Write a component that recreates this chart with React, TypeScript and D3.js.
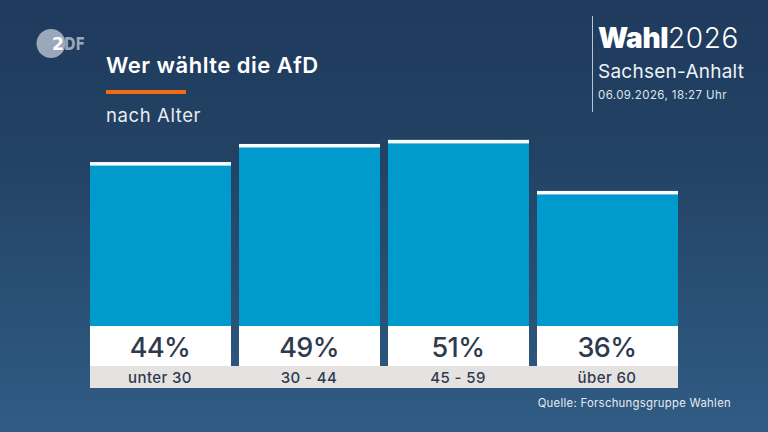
import React from "react";
import * as d3 from "d3";

const categories = ["unter 30", "30 - 44", "45 - 59", "über 60"];
const labelValues = [44, 49, 51, 36];
// bar heights (the drawn bars differ slightly from the rounded labels)
const barValues = [44.3, 49.2, 50.3, 36.5];
const font = "Inter, Roboto, 'Noto Sans', sans-serif";

export default function App() {
  const x = d3.scaleBand<string>().domain(categories).range([86, 682]).paddingInner(8 / 149).paddingOuter(4 / 149);
  const y = d3.scaleLinear().domain([0, 100]).range([326, -44]);
  const ink = "#2f3a4e";
  const bw = x.bandwidth();
  const x0 = x(categories[0])!;
  const x3 = x(categories[3])! + bw;
  return (
    <svg width={768} height={432} viewBox="0 0 768 432" style={{ position: "fixed", left: 0, top: 0, display: "block" }} fontFamily={font}>
      <defs>
        <linearGradient id="bg" x1="0" y1="0" x2="0" y2="1">
          <stop offset="0" stopColor="#1f3a5c" />
          <stop offset="0.35" stopColor="#224264" />
          <stop offset="1" stopColor="#305c84" />
        </linearGradient>
      </defs>
      <rect width={768} height={432} fill="url(#bg)" />

      {/* logo */}
      <circle cx={51} cy={43.5} r={14.5} fill="#9aa8ba" />
      <text x={52} y={50} fontSize={18} fontWeight={800} fill="#ffffff" fontFamily="'DejaVu Sans', sans-serif" textLength={12} lengthAdjust="spacingAndGlyphs">2</text>
      <text x={64} y={50} fontSize={18} fontWeight={700} fill="#9aa8ba" fontFamily="'DejaVu Sans', sans-serif" textLength={21} lengthAdjust="spacingAndGlyphs">DF</text>

      {/* title */}
      <text x={106} y={73} fontSize={22} fontWeight={600} fill="#fff" letterSpacing={0.5}>Wer wählte die AfD</text>
      <rect x={106} y={90} width={80} height={4} fill="#f26b0f" />
      <text x={106} y={121.5} fontSize={18.5} fill="#e8edf2" letterSpacing={0.6}>nach Alter</text>

      {/* header right */}
      <rect x={592} y={16} width={1} height={96} fill="#b8c4d0" />
      <text x={598} y={47.5} fontSize={28} fontWeight={900} fill="#fff" letterSpacing={-0.4}>Wahl</text>
      <text x={668} y={47.5} fontSize={28} fontWeight={300} fill="#fff" letterSpacing={0.6}>2026</text>
      <text x={598} y={77.5} fontSize={19} fill="#eef2f6" letterSpacing={0.25}>Sachsen-Anhalt</text>
      <text x={598} y={99} fontSize={11.5} fill="#dfe5ec" letterSpacing={0.4}>06.09.2026, 18:27 Uhr</text>

      {/* grey label strip */}
      <rect x={x0} y={366} width={x3 - x0} height={22} fill="#e5e3e2" />

      {categories.map((c, i) => {
        const bx = x(c)!;
        const top = y(barValues[i]);
        return (
          <g key={c}>
            <rect x={bx} y={top} width={bw} height={326 - top} fill="#009acd" />
            <rect x={bx} y={top} width={bw} height={3.5} fill="#ffffff" />
            <rect x={bx} y={326} width={bw} height={40} fill="#ffffff" />
            <text x={bx + bw / 2 - 0.5} y={356.5} textAnchor="middle" fontSize={27} fontWeight={500} fill={ink} letterSpacing={-0.6}>{labelValues[i]}%</text>
            <text x={bx + bw / 2 - 0.5} y={383} textAnchor="middle" fontSize={15} fontWeight={500} fill={ink} letterSpacing={0.4}>{c}</text>
          </g>
        );
      })}

      <text x={731} y={407} textAnchor="end" fontSize={11.3} fill="#e6ebf0" letterSpacing={0.3}>Quelle: Forschungsgruppe Wahlen</text>
    </svg>
  );
}
